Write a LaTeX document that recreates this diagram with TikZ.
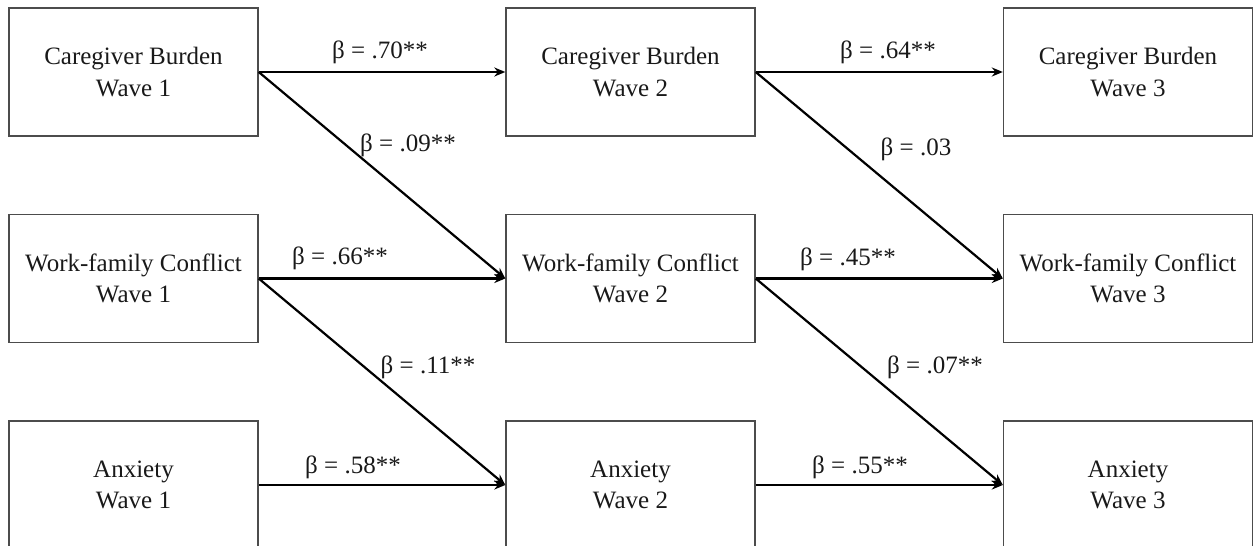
\documentclass[tikz,border=0pt]{standalone}
\usepackage{fontspec}
\setmainfont{Liberation Serif}
\usetikzlibrary{arrows.meta}
\begin{document}
\begin{tikzpicture}[x=1pt,y=-1pt,
  box/.style={draw=black!70,line width=1.4pt,rectangle,minimum width=249pt,minimum height=128pt,inner sep=0pt,align=center,font=\fontsize{25}{31.5}\selectfont,text=black!90},
  path/.style={line width=2.2pt,-{Stealth[length=11pt,width=9pt]}},
  lab/.style={font=\fontsize{25}{28}\selectfont,inner sep=0pt,text=black!90}]
\useasboundingbox (0,0) rectangle (1256,546);
\node[box] (cb1) at (133.5,72) {Caregiver Burden\\Wave 1};
\node[box] (cb2) at (630.5,72) {Caregiver Burden\\Wave 2};
\node[box] (cb3) at (1128,72) {Caregiver Burden\\Wave 3};
\node[box] (wf1) at (133.5,278.5) {Work-family Conflict\\Wave 1};
\node[box] (wf2) at (630.5,278.5) {Work-family Conflict\\Wave 2};
\node[box] (wf3) at (1128,278.5) {Work-family Conflict\\Wave 3};
\node[box] (ax1) at (133.5,485) {Anxiety\\Wave 1};
\node[box] (ax2) at (630.5,485) {Anxiety\\Wave 2};
\node[box] (ax3) at (1128,485) {Anxiety\\Wave 3};
\draw[path] (cb1.east) -- (cb2.west);
\draw[path] (cb2.east) -- (cb3.west);
\draw[path] (cb1.east) -- (wf2.west);
\draw[path] (cb2.east) -- (wf3.west);
\draw[path] (wf1.east) -- (wf2.west);
\draw[path] (wf2.east) -- (wf3.west);
\draw[path] (wf1.east) -- (ax2.west);
\draw[path] (wf2.east) -- (ax3.west);
\draw[path] (ax1.east) -- (ax2.west);
\draw[path] (ax2.east) -- (ax3.west);
\node[lab] (l1) at (380,52) {β = .70**};
\node[lab] (l2) at (888,52) {β = .64**};
\node[lab] (l3) at (408,145) {β = .09**};
\node[lab] (l4) at (916,149) {β = .03};
\node[lab] (l5) at (340,258) {β = .66**};
\node[lab] (l6) at (848,259) {β = .45**};
\node[lab] (l7) at (428,367) {β = .11**};
\node[lab] (l8) at (935,367) {β = .07**};
\node[lab] (l9) at (353,467) {β = .58**};
\node[lab] (l10) at (860,467) {β = .55**};
\end{tikzpicture}
\end{document}
